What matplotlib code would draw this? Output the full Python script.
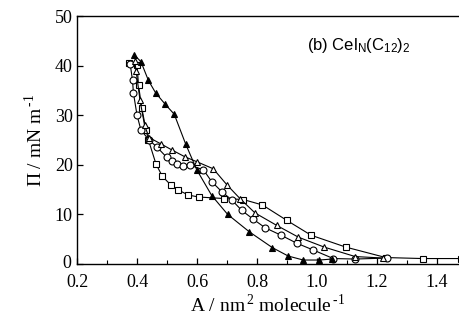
#!/usr/bin/env python3
import matplotlib
matplotlib.use('Agg')
import matplotlib.pyplot as plt
import matplotlib.transforms as mtransforms
from matplotlib.ticker import MultipleLocator

# surface pressure isotherms
# filled triangles
a_tri_f = [0.390, 0.413, 0.438, 0.462, 0.494, 0.524, 0.562, 0.599, 0.649, 0.702, 0.774, 0.851, 0.904, 0.954, 1.007, 1.050]
p_tri_f = [42.2, 40.8, 37.0, 34.5, 32.2, 30.2, 24.2, 19.0, 13.8, 10.0, 6.5, 3.3, 1.6, 0.8, 0.8, 1.0]
# open triangles
a_tri_o = [0.392, 0.397, 0.410, 0.425, 0.440, 0.480, 0.516, 0.560, 0.600, 0.654, 0.699, 0.743, 0.793, 0.865, 0.938, 1.024, 1.127, 1.220]
p_tri_o = [41.0, 38.9, 33.0, 28.0, 25.5, 24.2, 23.0, 21.6, 20.6, 19.2, 16.0, 13.2, 10.3, 7.8, 5.4, 3.4, 1.5, 1.2]
# circles
a_circ = [0.377, 0.385, 0.388, 0.400, 0.413, 0.440, 0.466, 0.499, 0.516, 0.532, 0.552, 0.577, 0.621, 0.649, 0.682,
          0.716, 0.749, 0.788, 0.827, 0.880, 0.932, 0.988, 1.054, 1.127, 1.232]
p_circ = [40.4, 37.0, 34.5, 30.0, 27.0, 25.0, 23.6, 21.5, 20.8, 20.1, 19.7, 19.9, 19.0, 16.6, 14.6,
          12.9, 10.8, 9.0, 7.3, 5.8, 4.2, 2.8, 1.1, 1.0, 1.2]
# squares
a_sq = [0.373, 0.400, 0.405, 0.416, 0.430, 0.438, 0.463, 0.484, 0.513, 0.538, 0.571, 0.606, 0.690, 0.754,
        0.818, 0.899, 0.980, 1.096, 1.229, 1.352, 1.480]
p_sq = [40.5, 40.2, 36.0, 31.4, 27.0, 25.0, 20.2, 17.7, 15.9, 14.9, 13.9, 13.5, 13.2, 13.0,
        11.9, 8.8, 5.8, 3.4, 1.3, 1.1, 1.1]

xticks = [0.2, 0.4, 0.6, 0.8, 1.0, 1.2, 1.4]
yticks = [0, 10, 20, 30, 40, 50]

plt.rcParams['font.family'] = ['Liberation Serif', 'DejaVu Serif']
plt.rcParams['mathtext.fontset'] = 'custom'
plt.rcParams['mathtext.rm'] = 'Liberation Serif'

fig = plt.figure(figsize=(4.6, 3.3), dpi=100)
ax = fig.add_axes([0.1674, 0.2, 0.8305, 0.7515])

style = dict(color='black', lw=0.8, mec='black', mew=0.8)
ax.plot(a_sq, p_sq, marker='s', mfc='white', ms=4.5, **style)
ax.plot(a_circ, p_circ, marker='o', mfc='white', ms=5, **style)
ax.plot(a_tri_o, p_tri_o, marker='^', mfc='white', ms=5, **style)
ax.plot(a_tri_f, p_tri_f, marker='^', mfc='black', ms=5, **style)

ax.set_xlim(0.2, 1.473)
ax.set_ylim(0, 50)
ax.set_xticks(xticks)
ax.set_xticklabels([f'{v:.1f}' for v in xticks])
ax.set_yticks(yticks)
ax.xaxis.set_minor_locator(MultipleLocator(0.1))
ax.tick_params(direction='in', length=4, width=0.9, labelsize=13)
ax.tick_params(axis='x', pad=7)
ax.tick_params(axis='y', pad=3, right=False)
ax.tick_params(which='minor', direction='in', length=3, width=0.8)
ax.spines['right'].set_visible(False)
for s in ('left', 'bottom', 'top'):
    ax.spines[s].set_linewidth(1.0)

# lift the "0" on the y axis a little so it clears the "0.2"
zero_lbl = ax.get_yticklabels()[0]
zero_lbl.set_transform(zero_lbl.get_transform() + mtransforms.ScaledTranslation(-2 / 100, 3 / 100, fig.dpi_scale_trans))

ax.set_xlabel(r'A / nm$^{\,2}$ molecule$^{\,\text{-}1}$', fontsize=14, labelpad=2)
ax.set_ylabel(r'$\Pi$ / mN m$^{\,\text{-}1}$', fontsize=14, labelpad=6)

ax.text(0.967, 44, r'(b) Cel$\mathregular{_N}$(C$\mathregular{_{12}}$)$\mathregular{_2}$',
        fontsize=12, family=['Liberation Sans', 'DejaVu Sans'], va='center')

fig.savefig('out.png', dpi=100)
